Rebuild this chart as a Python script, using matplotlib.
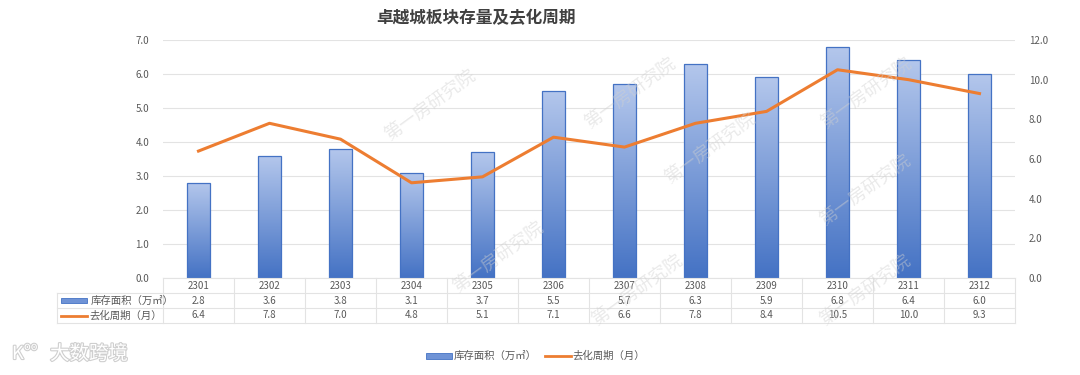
import matplotlib

matplotlib.use("Agg")
import matplotlib.pyplot as plt
import matplotlib.patheffects as pe
from matplotlib.colors import LinearSegmentedColormap
from matplotlib.lines import Line2D
from matplotlib.patches import Rectangle
import numpy as np

plt.rcParams["font.family"] = ["Noto Sans CJK SC", "DejaVu Sans"]

TITLE = "卓越城板块存量及去化周期"
MONTHS = ["2301", "2302", "2303", "2304", "2305", "2306",
          "2307", "2308", "2309", "2310", "2311", "2312"]
STOCK = [2.8, 3.6, 3.8, 3.1, 3.7, 5.5, 5.7, 6.3, 5.9, 6.8, 6.4, 6.0]
CYCLE = [6.4, 7.8, 7.0, 4.8, 5.1, 7.1, 6.6, 7.8, 8.4, 10.5, 10.0, 9.3]
STOCK_LABEL = "库存面积（万㎡）"
CYCLE_LABEL = "去化周期（月）"
WATERMARK = "第一房研究院"
LOGO = "大数跨境"

BLUE = "#4472c4"
LIGHT_BLUE = "#b4c7ec"
ORANGE = "#ed7d31"
GRID = "#e3e3e3"
TEXT = "#595959"

W, H = 1080, 375
fig = plt.figure(figsize=(W / 100, H / 100), dpi=100)

# plot area in pixel coords
L, R, T, B = 163, 1015, 40, 278
ax = fig.add_axes([L / W, 1 - B / H, (R - L) / W, (B - T) / H])
ax2 = ax.twinx()

n = len(MONTHS)
x = np.arange(n)
ax.set_xlim(-0.5, n - 0.5)
ax.set_ylim(0, 7)
ax2.set_ylim(0, 12)
ax.set_yticks(np.arange(0, 7.1, 1))
ax2.set_yticks(np.arange(0, 12.1, 2))
ax.set_yticklabels([f"{v:.1f}" for v in np.arange(0, 7.1, 1)])
ax2.set_yticklabels([f"{v:.1f}" for v in np.arange(0, 12.1, 2)])
for a in (ax, ax2):
    a.tick_params(length=0, labelsize=7, labelcolor=TEXT, pad=10)
    for s in a.spines.values():
        s.set_visible(False)
ax.set_xticks([])
ax.grid(axis="y", color=GRID, linewidth=0.8)
ax.set_axisbelow(True)

# gradient bars
cmap = LinearSegmentedColormap.from_list("bar", [BLUE, LIGHT_BLUE])
grad = np.linspace(0, 1, 256).reshape(-1, 1)
width = 0.32
bars = ax.bar(x, STOCK, width=width, color="none", edgecolor=BLUE,
              linewidth=0.9, zorder=3)
for b in bars:
    x0, y0 = b.get_x(), b.get_y()
    im = ax.imshow(grad, cmap=cmap, origin="lower", aspect="auto",
                   extent=[x0, x0 + b.get_width(), y0, y0 + b.get_height()],
                   zorder=2)
    im.set_clip_path(b)
ax.set_xlim(-0.5, n - 0.5)
ax.set_ylim(0, 7)

ax2.plot(x, CYCLE, color=ORANGE, linewidth=2.2, zorder=4,
         solid_joinstyle="round")

# data table below the axes
row_edges = [278, 293, 308, 323]
label_left = 57
col_w = (R - L) / n


def fx(px):
    return px / W


def fy(py):
    return 1 - py / H


tc = GRID
fig.add_artist(Line2D([fx(L), fx(R)], [fy(278), fy(278)], color=tc, lw=0.8))
for yy in row_edges[1:]:
    fig.add_artist(Line2D([fx(label_left), fx(R)], [fy(yy), fy(yy)], color=tc, lw=0.8))
for k in range(n + 1):
    xx = L + k * col_w
    fig.add_artist(Line2D([fx(xx), fx(xx)], [fy(278), fy(323)], color=tc, lw=0.8))
fig.add_artist(Line2D([fx(label_left), fx(label_left)], [fy(293), fy(323)], color=tc, lw=0.8))

for k in range(n):
    cx = fx(L + (k + 0.5) * col_w)
    fig.text(cx, fy(286), MONTHS[k], ha="center", va="center", fontsize=7, color=TEXT)
    fig.text(cx, fy(300.5), f"{STOCK[k]:.1f}", ha="center", va="center", fontsize=7, color=TEXT)
    fig.text(cx, fy(315.5), f"{CYCLE[k]:.1f}", ha="center", va="center", fontsize=7, color=TEXT)

# row labels with legend keys
fig.add_artist(Rectangle((fx(61), fy(303)), fx(26), fy(298) - fy(303),
                         facecolor="#6f93d6", edgecolor=BLUE, lw=0.6))
fig.text(fx(91), fy(300.5), STOCK_LABEL, ha="left", va="center", fontsize=7.5, color=TEXT)
fig.add_artist(Line2D([fx(61), fx(87)], [fy(315.5), fy(315.5)], color=ORANGE, lw=2))
fig.text(fx(89), fy(315.5), CYCLE_LABEL, ha="left", va="center", fontsize=7.5, color=TEXT)

# bottom legend
fig.add_artist(Rectangle((fx(426), fy(359)), fx(26), fy(353) - fy(359),
                         facecolor="#6f93d6", edgecolor=BLUE, lw=0.6))
fig.text(fx(454), fy(356), STOCK_LABEL, ha="left", va="center", fontsize=7.5, color=TEXT)
fig.add_artist(Line2D([fx(545), fx(571)], [fy(356), fy(356)], color=ORANGE, lw=2))
fig.text(fx(572), fy(356), CYCLE_LABEL, ha="left", va="center", fontsize=7.5, color=TEXT)

# title
fig.text(fx(476), fy(18), TITLE, ha="center", va="center", fontsize=12,
         fontweight="bold", color="#404040")

# watermarks
marks = [(430, 105), (630, 93), (710, 148), (866, 93),
         (498, 257), (637, 290), (865, 190), (865, 290)]
for mx, my in marks:
    fig.text(fx(mx), fy(my), WATERMARK, ha="center", va="center", fontsize=13,
             rotation=36, color="#d0d0d0", alpha=0.45, zorder=10)

# logo bottom-left
stroke = [pe.withStroke(linewidth=1.6, foreground="#cfcfcf")]
fig.text(fx(12), fy(354), "K", ha="left", va="center", fontsize=13, color="white",
         path_effects=stroke)
fig.text(fx(24), fy(347), "oo", ha="left", va="center", fontsize=8, color="white",
         path_effects=stroke)
fig.text(fx(50), fy(354), LOGO, ha="left", va="center", fontsize=14, color="white",
         path_effects=stroke)

fig.savefig("out.png", dpi=100)
